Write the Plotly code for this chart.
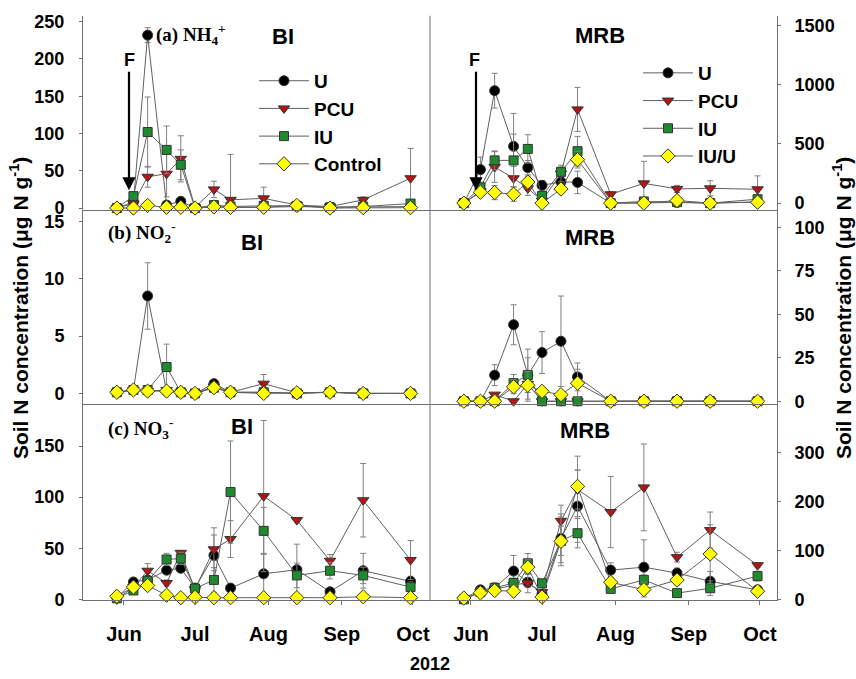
import plotly.graph_objects as go

# ---------------- data ----------------
dates = ["2012-05-29", "2012-06-05", "2012-06-11", "2012-06-19", "2012-06-25",
         "2012-07-01", "2012-07-09", "2012-07-16", "2012-07-30", "2012-08-13",
         "2012-08-27", "2012-09-10", "2012-09-30"]
month_ticks = ["2012-06-01", "2012-07-01", "2012-08-01", "2012-09-01", "2012-10-01"]
month_labels = ["Jun", "Jul", "Aug", "Sep", "Oct"]

# (a) NH4+  BI
bi_nh4_u = [0, 8, 232, 4, 9, 0, 2, 1, 1, 2, 1, 1, 2]
bi_nh4_u_err = [0, 3, 10, 3, 4, 0, 1, 1, 1, 1, 0, 0, 1]
bi_nh4_pcu = [0, 6, 42, 46, 66, 1, 25, 11, 13, 4, 2, 11, 40]
bi_nh4_pcu_err = [0, 3, 14, 31, 31, 0, 11, 61, 15, 2, 1, 4, 40]
bi_nh4_iu = [0, 16, 102, 78, 58, 0, 4, 2, 3, 3, 1, 2, 6]
bi_nh4_iu_err = [0, 4, 47, 32, 20, 0, 2, 1, 1, 1, 0, 1, 2]
bi_nh4_ctrl = [0, 0, 3.5, 1, 1, 0, 1.5, 1, 1, 3.5, 0, 0.5, 0.5]
bi_nh4_ctrl_err = [0, 0, 1, 0, 0, 0, 0, 0, 0, 0, 0, 0, 0]

# (a) NH4+  MRB
mrb_nh4_u = [0, 283, 950, 480, 300, 150, 180, 175, 0, 5, 5, 0, 10]
mrb_nh4_u_err = [0, 106, 147, 278, 60, 40, 60, 95, 0, 0, 0, 0, 0]
mrb_nh4_pcu = [0, 100, 305, 210, 125, 20, 250, 792, 75, 167, 120, 125, 117]
mrb_nh4_pcu_err = [0, 30, 130, 100, 60, 10, 70, 186, 20, 186, 30, 64, 113]
mrb_nh4_iu = [0, 133, 361, 361, 458, 61, 264, 439, 0, 14, 8, 0, 33]
mrb_nh4_iu_err = [0, 40, 80, 222, 120, 40, 40, 125, 0, 5, 5, 0, 10]
mrb_nh4_iuu = [0, 92, 89, 75, 178, 0, 119, 367, 0, 0, 22, 0, 8]
mrb_nh4_iuu_err = [0, 20, 60, 60, 50, 0, 40, 70, 0, 0, 0, 0, 0]

# (b) NO2-  BI
bi_no2_u = [0.1, 0.3, 8.5, 0.2, 0.1, 0, 0.85, 0.1, 0.1, 0, 0.1, 0, 0]
bi_no2_u_err = [0, 0, 2.9, 0, 0, 0, 0.1, 0, 0, 0, 0, 0, 0]
bi_no2_pcu = [0.1, 0.3, 0.2, 0.3, 0.1, 0, 0.6, 0.1, 0.85, 0.05, 0.1, 0, 0]
bi_no2_pcu_err = [0, 0, 0, 0, 0, 0, 0, 0, 0.8, 0, 0, 0, 0]
bi_no2_iu = [0.1, 0.3, 0.3, 2.3, 0.1, 0, 0.5, 0.1, 0.1, 0, 0.1, 0, 0]
bi_no2_iu_err = [0, 0, 0, 2.0, 0, 0, 0, 0, 0, 0, 0, 0, 0]
bi_no2_ctrl = [0.1, 0.3, 0.2, 0.2, 0.1, 0, 0.5, 0.1, 0, 0.05, 0.1, 0, 0]
bi_no2_ctrl_err = [0] * 13

# (b) NO2-  MRB
mrb_no2_u = [0, 0, 15, 44, 15, 28, 34.5, 14, 0, 0, 0, 0, 0]
mrb_no2_u_err = [0, 0, 6, 11.5, 15, 12, 26, 8, 0, 0, 0, 0, 0]
mrb_no2_pcu = [0, 0, 3.8, 0, 10, 0, 0, 0, 0, 0, 0, 0, 0]
mrb_no2_pcu_err = [0, 0, 0, 0, 0, 0, 0, 0, 0, 0, 0, 0, 0]
mrb_no2_iu = [0, 0, 0, 10.4, 15, 0, 0, 0, 0, 0, 0, 0, 0]
mrb_no2_iu_err = [0, 0, 0, 5, 10, 0, 0, 0, 0, 0, 0, 0, 0]
mrb_no2_iuu = [0, 0, 0, 8.3, 9.2, 5.7, 3.8, 10.4, 0, 0, 0, 0, 0]
mrb_no2_iuu_err = [0, 0, 0, 4, 8, 0, 0, 8, 0, 0, 0, 0, 0]

# (c) NO3-  BI
bi_no3_u = [2, 17, 19, 28.5, 30.4, 11, 43, 11, 25, 29, 7.4, 28, 17.6]
bi_no3_u_err = [0, 2, 3, 3, 4, 2, 20, 3, 20, 25, 3, 17, 5]
bi_no3_pcu = [0, 12, 28, 16, 45.5, 10, 49, 59, 101, 77.6, 37.8, 97, 38.5]
bi_no3_pcu_err = [0, 3, 7, 3, 2, 2, 21, 18, 74, 2, 6, 36, 19]
bi_no3_iu = [1, 8.7, 18, 39, 40, 10.6, 19, 105, 67, 23.4, 28, 23.4, 12]
bi_no3_iu_err = [0, 2, 3, 6, 6, 2, 12, 50, 23, 12, 8, 8, 5]
bi_no3_ctrl = [3, 12, 13.5, 4, 1.6, 2, 1.6, 1.6, 1.6, 1.6, 1.6, 2.5, 1.6]
bi_no3_ctrl_err = [0, 2, 4, 0, 0, 0, 0, 0, 0, 0, 0, 0, 0]

# (c) NO3-  MRB
mrb_no3_u = [2, 19.5, 23.5, 58, 35, 11, 125, 191, 60, 66, 54, 37, 19.5]
mrb_no3_u_err = [0, 5, 10, 32, 10, 5, 50, 74, 15, 56, 10, 20, 5]
mrb_no3_pcu = [0, 15, 20, 30, 33.6, 15, 161, 225, 179, 229.5, 86.6, 142, 70]
mrb_no3_pcu_err = [0, 3, 5, 10, 20, 5, 32, 40, 73, 89, 10, 37, 5]
mrb_no3_iu = [0, 15, 23.5, 33.6, 74, 33, 120, 135.6, 21.5, 40, 12.8, 22.8, 47.7]
mrb_no3_iu_err = [0, 3, 10, 10, 20, 5, 30, 30, 5, 10, 5, 15, 10]
mrb_no3_iuu = [2.7, 13.4, 18, 16.8, 66, 4.7, 119, 231.5, 35, 20, 39.6, 93, 16.8]
mrb_no3_iuu_err = [0, 3, 5, 5, 15, 2, 50, 62, 10, 15, 10, 60, 5]

# ---------------- layout helpers ----------------
W, H = 856, 679
def fx(p):
    return p / W
def fy(p):
    return 1 - p / H

BOLD = dict(family="Liberation Sans, Arial, sans-serif", color="#000000", weight="bold")
styles = {
    "U": dict(symbol="circle", color="#000000", size=10),
    "PCU": dict(symbol="triangle-down", color="#b41414", size=10),
    "IU": dict(symbol="square", color="#1f8a2e", size=9),
    "Y": dict(symbol="diamond", color="#ffff00", size=11),
}

fig = go.Figure()

def add(name, vals, errs, key, ax, legend, showlegend):
    st = styles[key]
    minus = [min(e, v) for e, v in zip(errs, vals)]
    fig.add_trace(go.Scatter(
        x=dates, y=vals, mode="lines+markers", name=name,
        line=dict(color="#606060", width=1),
        marker=dict(symbol=st["symbol"], size=st["size"], color=st["color"],
                    line=dict(color="#333333", width=1)),
        error_y=dict(type="data", array=errs, arrayminus=minus, color="#808080",
                     thickness=1, width=3),
        xaxis="x" + ("" if ax == 1 else str(ax)),
        yaxis="y" + ("" if ax == 1 else str(ax)),
        legend=legend, showlegend=showlegend, cliponaxis=False, hoverinfo="skip"))

panels = [
    (1, "legend", True, [("U", bi_nh4_u, bi_nh4_u_err, "U"), ("PCU", bi_nh4_pcu, bi_nh4_pcu_err, "PCU"),
                         ("IU", bi_nh4_iu, bi_nh4_iu_err, "IU"), ("Control", bi_nh4_ctrl, bi_nh4_ctrl_err, "Y")]),
    (2, "legend2", True, [("U", mrb_nh4_u, mrb_nh4_u_err, "U"), ("PCU", mrb_nh4_pcu, mrb_nh4_pcu_err, "PCU"),
                          ("IU", mrb_nh4_iu, mrb_nh4_iu_err, "IU"), ("IU/U", mrb_nh4_iuu, mrb_nh4_iuu_err, "Y")]),
    (3, "legend", False, [("U", bi_no2_u, bi_no2_u_err, "U"), ("PCU", bi_no2_pcu, bi_no2_pcu_err, "PCU"),
                          ("IU", bi_no2_iu, bi_no2_iu_err, "IU"), ("Control", bi_no2_ctrl, bi_no2_ctrl_err, "Y")]),
    (4, "legend2", False, [("U", mrb_no2_u, mrb_no2_u_err, "U"), ("PCU", mrb_no2_pcu, mrb_no2_pcu_err, "PCU"),
                           ("IU", mrb_no2_iu, mrb_no2_iu_err, "IU"), ("IU/U", mrb_no2_iuu, mrb_no2_iuu_err, "Y")]),
    (5, "legend", False, [("U", bi_no3_u, bi_no3_u_err, "U"), ("PCU", bi_no3_pcu, bi_no3_pcu_err, "PCU"),
                          ("IU", bi_no3_iu, bi_no3_iu_err, "IU"), ("Control", bi_no3_ctrl, bi_no3_ctrl_err, "Y")]),
    (6, "legend2", False, [("U", mrb_no3_u, mrb_no3_u_err, "U"), ("PCU", mrb_no3_pcu, mrb_no3_pcu_err, "PCU"),
                           ("IU", mrb_no3_iu, mrb_no3_iu_err, "IU"), ("IU/U", mrb_no3_iuu, mrb_no3_iuu_err, "Y")]),
]
for ax, leg, show, series in panels:
    for name, vals, errs, key in series:
        add(name, vals, errs, key, ax, leg, show)

LINE = "#707070"
xrange_ = ["2012-05-14 17:00", "2012-10-08 05:00"]
xl = [fx(83), fx(430)]
xr = [fx(430), fx(777)]
yt = [fy(210), fy(12)]
ym = [fy(408), fy(210)]
yb = [fy(608), fy(408)]

def xaxis(dom, anchor, labels):
    d = dict(domain=dom, anchor=anchor, type="date", range=xrange_, showgrid=False,
             zeroline=False, showline=True, linecolor=LINE, linewidth=1)
    if labels:
        d.update(tickvals=month_ticks, ticktext=month_labels, ticks="outside", ticklen=4,
                 tickcolor=LINE, tickfont=dict(size=20, **BOLD), ticklabelstandoff=12)
    else:
        d.update(showticklabels=False, ticks="")
    return d

def yaxis(dom, anchor, rng, tv, side):
    return dict(domain=dom, anchor=anchor, range=rng, tickvals=tv, side=side, showgrid=False,
                zeroline=False, showline=True, linecolor=LINE, linewidth=1, ticks="outside",
                ticklen=3, tickcolor=LINE, tickfont=dict(size=18, **BOLD),
                ticklabelstandoff=(11 if side == "left" else 10))

fig.update_layout(
    width=W, height=H, margin=dict(l=0, r=0, t=0, b=0),
    paper_bgcolor="white", plot_bgcolor="white",
    xaxis=xaxis(xl, "y", False), xaxis2=xaxis(xr, "y2", False),
    xaxis3=xaxis(xl, "y3", False), xaxis4=xaxis(xr, "y4", False),
    xaxis5=xaxis(xl, "y5", True), xaxis6=xaxis(xr, "y6", True),
    yaxis=yaxis(yt, "x", [-2.6, 258], [0, 50, 100, 150, 200, 250], "left"),
    yaxis2=yaxis(yt, "x2", [-58, 1583], [0, 500, 1000, 1500], "right"),
    yaxis3=yaxis(ym, "x3", [-0.94, 16.0], [0, 5, 10, 15], "left"),
    yaxis4=yaxis(ym, "x4", [-1.7, 110], [0, 25, 50, 75, 100], "right"),
    yaxis5=yaxis(yb, "x5", [-1, 191], [0, 50, 100, 150], "left"),
    yaxis6=yaxis(yb, "x6", [-2, 400], [0, 100, 200, 300], "right"),
    legend=dict(x=fx(254), y=fy(59), xanchor="left", yanchor="top", bgcolor="rgba(0,0,0,0)",
                font=dict(size=19, **BOLD), itemwidth=50, tracegroupgap=0),
    legend2=dict(x=fx(638), y=fy(51), xanchor="left", yanchor="top", bgcolor="rgba(0,0,0,0)",
                 font=dict(size=19, **BOLD), itemwidth=50, tracegroupgap=0),
    showlegend=True,
)

fig.add_shape(type="line", xref="paper", yref="paper", x0=fx(430), x1=fx(430),
              y0=fy(608), y1=fy(12), line=dict(color=LINE, width=1))

SERIF = dict(family="Liberation Serif, Times New Roman, serif", color="#000000", weight="bold", size=19)
TITLE = "Soil N concentration (μg N g<sup>-1</sup>)"
ann = [
    dict(text="(a) NH<sub>4</sub><sup>+</sup>", x=fx(154), y=fy(31), xanchor="left", font=SERIF),
    dict(text="(b) NO<sub>2</sub><sup>-</sup>", x=fx(106), y=fy(233), xanchor="left", font=SERIF),
    dict(text="(c) NO<sub>3</sub><sup>-</sup>", x=fx(106), y=fy(433), xanchor="left", font=SERIF),
    dict(text="BI", x=fx(283), y=fy(33), font=dict(size=22, **BOLD)),
    dict(text="MRB", x=fx(600), y=fy(32), font=dict(size=22, **BOLD)),
    dict(text="BI", x=fx(252), y=fy(243), font=dict(size=22, **BOLD)),
    dict(text="MRB", x=fx(590), y=fy(238), font=dict(size=22, **BOLD)),
    dict(text="BI", x=fx(242), y=fy(431), font=dict(size=22, **BOLD)),
    dict(text="MRB", x=fx(585), y=fy(435), font=dict(size=22, **BOLD)),
    dict(text="F", x=fx(129), y=fy(57), font=dict(size=18, **BOLD)),
    dict(text="F", x=fx(474), y=fy(57), font=dict(size=18, **BOLD)),
    dict(text="2012", x=fx(430), y=fy(673), font=dict(size=18, **BOLD)),
    dict(text=TITLE, x=fx(19), y=fy(310), textangle=-90, font=dict(size=21, **BOLD)),
    dict(text=TITLE, x=fx(842), y=fy(310), textangle=-90, font=dict(size=21, **BOLD)),
]
for a in ann:
    a.setdefault("xref", "paper")
    a.setdefault("yref", "paper")
    a.setdefault("showarrow", False)
    a.setdefault("yanchor", "middle")
    a.setdefault("xanchor", "center")
    fig.add_annotation(**a)

# F arrows
for xa in (129, 476):
    fig.add_annotation(xref="paper", yref="paper", x=fx(xa), y=fy(190), ax=0, ay=-120,
                       text="", showarrow=True, arrowhead=2, arrowsize=1.2, arrowwidth=2.2,
                       arrowcolor="#000000")

fig.write_html("out.html", config={"displayModeBar": False},
               post_script="document.body.style.margin='0';document.body.style.overflow='hidden';")
